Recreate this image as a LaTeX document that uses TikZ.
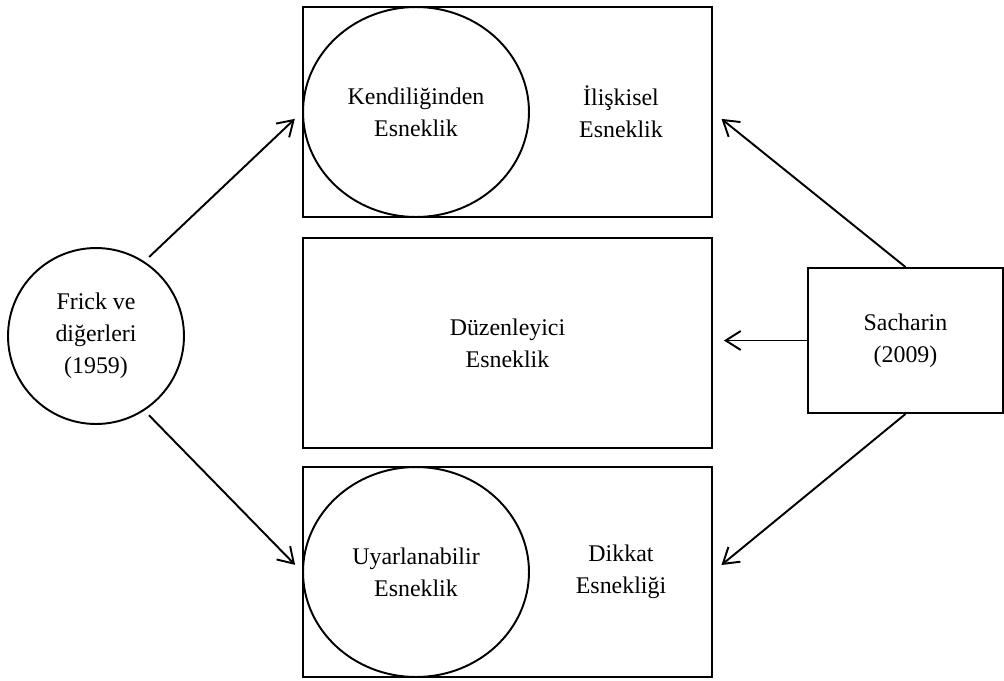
\documentclass[tikz,border=0pt]{standalone}
\usepackage{fontspec}
\setmainfont{Liberation Serif}
\usetikzlibrary{shapes.geometric,arrows.meta}

\begin{document}
\begin{tikzpicture}[x=0.02cm,y=-0.02cm,
  every node/.style={font=\fontsize{13.6pt}{18.2pt}\selectfont,align=center},
  box/.style={draw,line width=1.1pt,rectangle,minimum width=8.18cm,minimum height=4.2cm,inner sep=0pt},
  blob/.style={draw,line width=1.1pt,ellipse,minimum width=4.52cm,minimum height=4.2cm,inner sep=0pt},
  link/.style={line width=1.1pt,-{Straight Barb[length=0.3cm,width=0.38cm]}}]
\useasboundingbox (0,0) rectangle (1004,680);
% three boxes
\node[box] (topbox) at (507.5,112) {};
\node[box] (midbox) at (507.5,343) {D\"uzenleyici\\Esneklik};
\node[box] (botbox) at (507.5,572) {};
% ellipses and texts inside the boxes
\node[blob] (kendi) at (416,112) {Kendiliğinden\\Esneklik};
\node[blob] (uyar) at (416,572) {Uyarlanabilir\\Esneklik};
\node (iliski) at (621,112) {İlişkisel\\Esneklik};
\node (dikkat) at (621,572) {Dikkat\\Esnekliği};
% sources
\node[draw,circle,line width=1.1pt,minimum size=3.52cm,inner sep=0pt] (frick) at (96,336) {Frick ve\\diğerleri\\(1959)};
\node[draw,rectangle,line width=1.1pt,minimum width=3.9cm,minimum height=2.9cm,inner sep=0pt] (sacharin) at (905.5,340.5) {Sacharin\\(2009)};
% arrows
\draw[link,shorten <=0.13cm,shorten >=0.2cm] (frick.57) -- (topbox.west);
\draw[link,shorten <=0.13cm,shorten >=0.2cm] (frick.-57) -- (botbox.west);
\draw[link,shorten >=0.22cm] (sacharin.north) -- (topbox.east);
\draw[link,shorten >=0.22cm] (sacharin.west) -- (midbox.east |- sacharin.west);
\draw[link,shorten >=0.22cm] (sacharin.south) -- (botbox.east);
\end{tikzpicture}
\end{document}
